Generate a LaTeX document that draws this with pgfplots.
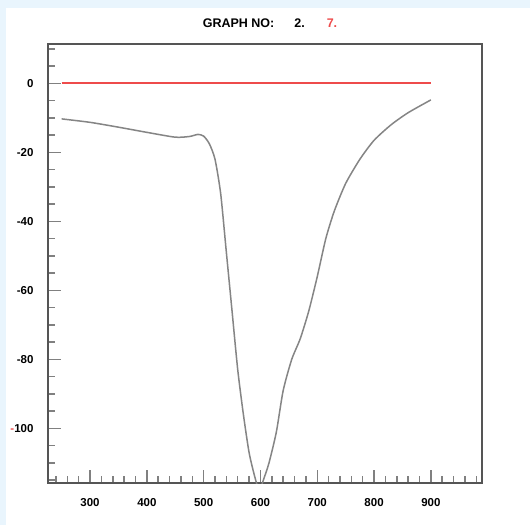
\documentclass[border=0pt]{standalone}
\usepackage{pgfplots}
\pgfplotsset{compat=1.18}
\usepackage{fontspec}
\setmainfont{Liberation Sans}
\definecolor{bgblue}{HTML}{E9F5FD}
\definecolor{curvegray}{HTML}{858585}
\definecolor{redline}{HTML}{EE4B4B}
\definecolor{framegray}{HTML}{555555}
\begin{document}
\begin{tikzpicture}
\fill[bgblue] (0pt,0pt) rectangle (530pt,525pt);
\fill[white] (6pt,0pt) rectangle (530pt,517pt);
\useasboundingbox (0pt,0pt) rectangle (530pt,525pt);
\node[font=\bfseries\fontsize{12.5}{14}\selectfont] at (270pt,502pt) {GRAPH NO:\hspace{20pt}2.\hspace{22pt}\textcolor{redline}{7.}};
\begin{axis}[
    at={(48pt,42pt)}, anchor=south west,
    scale only axis, width=434pt, height=439pt,
    xmin=226, xmax=990,
    ymin=-115.8, ymax=11.4,
    axis line style={draw=framegray, line width=1.2pt},
    tick align=inside,
    xtick pos=bottom, ytick pos=left,
    xtick={300,400,...,900},
    minor xtick={240,260,...,980},
    ytick={-100,-80,...,0},
    yticklabels={{\textcolor{redline}{-}100},-80,-60,-40,-20,0},
    minor ytick={-115,-110,...,10},
    major tick length=13pt, minor tick length=7pt,
    every tick/.style={draw=gray, line width=1.5pt},
    tick label style={font=\bfseries\fontsize{11.5}{13}\selectfont},
    xticklabel style={yshift=-12pt},
    yticklabel style={xshift=-11pt},
    /pgf/number format/assume math mode=true,
    clip=true,
]
\addplot[draw=redline, line width=2.2pt] coordinates {(250,0) (900,0)};
\addplot[draw=curvegray, line width=1.5pt, smooth, tension=0.4] coordinates {
    (250,-10.3) (300,-11.3) (350,-12.7) (400,-14.2) (450,-15.6)
    (475,-15.4) (490,-14.8) (500,-15.3) (510,-17.5) (520,-22)
    (530,-32) (540,-49) (550,-66) (560,-83) (570,-96)
    (580,-107) (590,-114) (598,-118) (605,-115) (615,-110)
    (628,-101) (640,-89) (655,-80) (670,-74) (685,-66)
    (700,-56) (715,-45) (730,-37) (750,-29) (775,-22)
    (800,-16.5) (830,-12) (860,-8.5) (900,-4.8)
};
\end{axis}
\end{tikzpicture}
\end{document}
